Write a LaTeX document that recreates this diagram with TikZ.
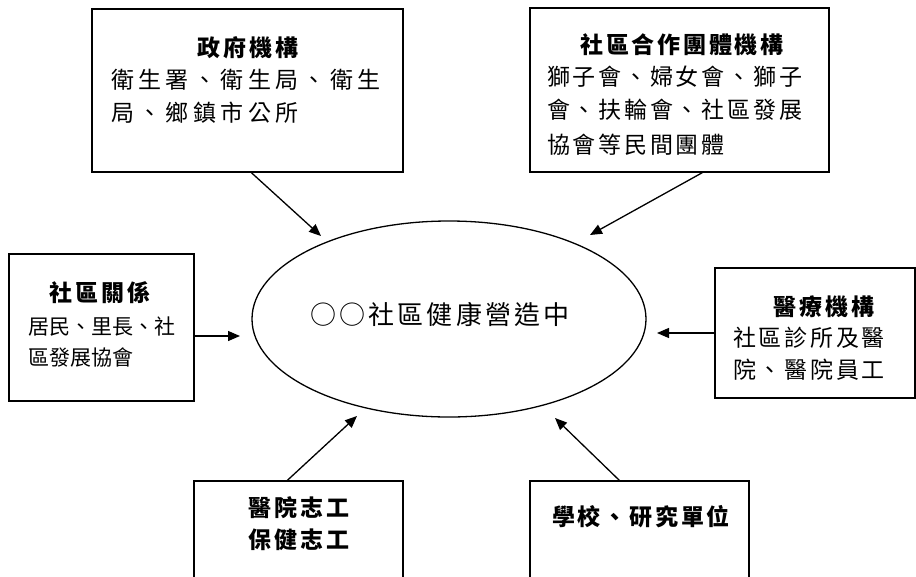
\documentclass[tikz,border=0pt]{standalone}
\usepackage{fontspec}
\newfontfamily\cjk[LetterSpace=12]{Noto Sans CJK TC}
\newfontfamily\cjkw[LetterSpace=19]{Noto Sans CJK TC}
\newfontfamily\cjkn{Noto Sans CJK TC}
\usetikzlibrary{shapes.geometric,arrows.meta}
\tikzset{
  boxnode/.style={draw,line width=1.3pt,rectangle,inner sep=0pt},
  bodytxt/.style={anchor=west,inner sep=0pt,font=\cjk\fontsize{23}{30}\selectfont},
  titletxt/.style={anchor=center,inner sep=0pt,font=\cjk\bfseries\fontsize{23}{30}\selectfont},
  conn/.style={line width=1.3pt,-{Triangle[length=12pt,width=10pt]}}
}
\begin{document}
\begin{tikzpicture}[x=1pt,y=-1pt]
\useasboundingbox (0,0) rectangle (916,576);
% boxes
\node[boxnode,minimum width=311pt,minimum height=163pt] (b1) at (247.5,90.5) {};
\node[boxnode,minimum width=299pt,minimum height=164pt] (b2) at (679.5,90) {};
\node[boxnode,minimum width=185pt,minimum height=147pt] (b3) at (101.5,327.5) {};
\node[boxnode,minimum width=200pt,minimum height=130pt] (b4) at (815,333) {};
\node[boxnode,minimum width=209pt,minimum height=140pt] (b5) at (298.5,551) {};
\node[boxnode,minimum width=219pt,minimum height=140pt] (b6) at (639.5,551) {};
% ellipse
\node[draw,ellipse,line width=1.3pt,minimum width=394pt,minimum height=196pt,inner sep=0pt] (el) at (449,319) {};
\node[inner sep=0pt,font=\cjk\fontsize{26}{30}\selectfont] (elt) at (440,315) {○○社區健康營造中};
% box 1
\node[titletxt] (t1) at (248,48) {政府機構};
\node[bodytxt,font=\cjkw\fontsize{23}{30}\selectfont] (t1a) at (111,80) {衛生署、衛生局、衛生};
\node[bodytxt,font=\cjkw\fontsize{23}{30}\selectfont] (t1b) at (111,113) {局、鄉鎮市公所};
% box 2
\node[titletxt] (t2) at (682,45) {社區合作團體機構};
\node[bodytxt] (t2a) at (547,77) {獅子會、婦女會、獅子};
\node[bodytxt] (t2b) at (547,110) {會、扶輪會、社區發展};
\node[bodytxt] (t2c) at (547,145) {協會等民間團體};
% box 3
\node[titletxt] (t3) at (100,293) {社區關係};
\node[bodytxt,font=\cjkn\fontsize{21}{30}\selectfont] (t3a) at (28,327) {居民、里長、社};
\node[bodytxt,font=\cjkn\fontsize{21}{30}\selectfont] (t3b) at (28,357) {區發展協會};
% box 4
\node[titletxt] (t4) at (824,307) {醫療機構};
\node[bodytxt] (t4a) at (733,338) {社區診所及醫};
\node[bodytxt] (t4b) at (733,370) {院、醫院員工};
% box 5
\node[titletxt] (t5a) at (299,508) {醫院志工};
\node[titletxt] (t5b) at (299,540) {保健志工};
% box 6
\node[titletxt] (t6) at (641,517) {學校、研究單位};
% arrow ends
\coordinate (a1s) at ([xshift=160pt]b1.south west);
\coordinate (a1e) at (321,236);
\coordinate (a2s) at ([xshift=173pt]b2.south west);
\coordinate (a2e) at (590,235);
\coordinate (a3s) at ([yshift=-8.5pt]b3.east);
\coordinate (a3e) at (240,336);
\coordinate (a4s) at (b4.west);
\coordinate (a4e) at (657,333);
\coordinate (a5s) at ([xshift=94pt]b5.north west);
\coordinate (a5e) at (357,416);
\coordinate (a6s) at ([xshift=90pt]b6.north west);
\coordinate (a6e) at (555,418);
\draw[conn] (a1s) -- (a1e);
\draw[conn] (a2s) -- (a2e);
\draw[conn] (a3s) -- (a3e);
\draw[conn] (a4s) -- (a4e);
\draw[conn] (a5s) -- (a5e);
\draw[conn] (a6s) -- (a6e);
\end{tikzpicture}
\end{document}
